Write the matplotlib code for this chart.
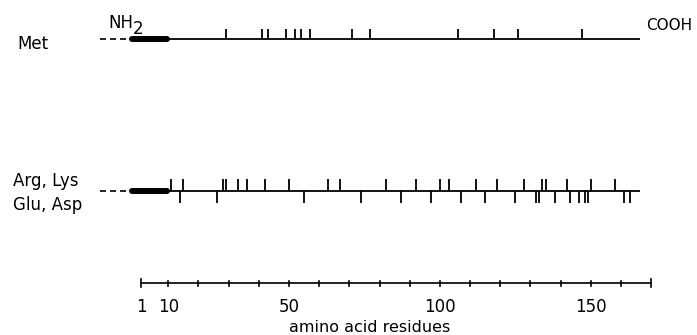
"""
Residue map: Met and charged residues (Arg/Lys vs Glu/Asp) along the chain.
"""
import matplotlib
matplotlib.use("Agg")
import matplotlib.pyplot as plt

plt.rcParams["font.family"] = ["DejaVu Sans"]

# residue positions
met_pos = [29, 41, 43, 49, 52, 54, 57, 71, 77, 106, 118, 126, 147]
basic_pos = [11, 15, 28, 29, 33, 36, 42, 50, 63, 67, 82, 92, 100, 103,
             112, 119, 128, 134, 135, 142, 150, 158]
acidic_pos = [14, 26, 55, 74, 87, 97, 107, 115, 125, 132, 133, 138, 143,
              146, 148, 149, 161, 163]
chain_end = 166.3
pro_start, pro_end = -2.0, 9.5
lead_start, lead_end = -12.6, -4.0

axis_ticks = [1, 10, 20, 30, 40, 50, 60, 70, 80, 90, 100, 110, 120, 130,
              140, 150, 160, 170]
axis_labels = {1: "1", 10: "10", 50: "50", 100: "100", 150: "150"}

# layout (y in pixels from top)
Y_MET = 39.0
Y_CHG = 190.7
Y_AX = 283.3
FS = 12

fig = plt.figure(figsize=(6.97, 3.35), dpi=100)
ax = fig.add_axes([0, 0, 1, 1])
ax.set_xlim(-45.76, 185.2)
ax.set_ylim(335, 0)
ax.axis("off")


def draw_chain(y):
    ax.plot([lead_start, lead_end], [y, y], color="black", lw=1.2,
            linestyle=(0, (3.6, 2.4)), solid_capstyle="butt")
    ax.plot([pro_start, pro_end], [y, y], color="black", lw=4.3,
            solid_capstyle="round")
    ax.plot([pro_end, chain_end], [y, y], color="black", lw=1.3,
            solid_capstyle="butt")


# Met track
draw_chain(Y_MET)
ax.vlines(met_pos, Y_MET, Y_MET - 10, color="black", lw=1.3)

# charged residues track
draw_chain(Y_CHG)
ax.vlines(basic_pos, Y_CHG, Y_CHG - 12, color="black", lw=1.3)
ax.vlines(acidic_pos, Y_CHG, Y_CHG + 12, color="black", lw=1.3)

# residue scale
ax.plot([axis_ticks[0], axis_ticks[-1]], [Y_AX, Y_AX], color="black", lw=1.2)
for t in axis_ticks:
    h = 4 if t in (axis_ticks[0], axis_ticks[-1]) else 2.2
    ax.plot([t, t], [Y_AX - h, Y_AX + h], color="black", lw=1.2)
for t, lab in axis_labels.items():
    ax.text(t, 312, lab, ha="center", va="baseline", fontsize=FS)
ax.text(76.8, 332, "amino acid residues", ha="center", va="baseline",
        fontsize=11.5)

# labels
ax.text(-40, 49.3, "Met", ha="left", va="baseline", fontsize=FS)
ax.text(-10, 28, "NH", ha="left", va="baseline", fontsize=FS)
ax.text(-1.8, 34, "2", ha="left", va="baseline", fontsize=FS)
ax.text(168.5, 30, "COOH", ha="left", va="baseline", fontsize=11)
ax.text(-41.4, 186, "Arg, Lys", ha="left", va="baseline", fontsize=FS)
ax.text(-41.4, 210, "Glu, Asp", ha="left", va="baseline", fontsize=FS)

fig.savefig("out.png", dpi=100)
plt.close(fig)
